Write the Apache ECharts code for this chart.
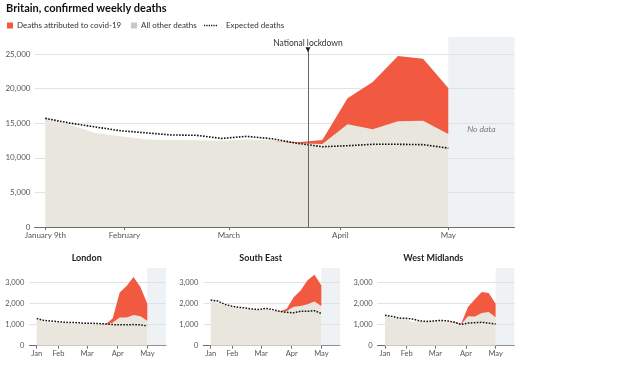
<!DOCTYPE html>
<html><head><meta charset="utf-8">
<script src="https://cdn.jsdelivr.net/npm/echarts@6/dist/echarts.min.js"></script>
<style>html,body{margin:0;padding:0;background:#fff}#c{width:624px;height:373px}</style>
</head><body><div id="c"></div>
<script>
// ---- data ----
const weekEnding = ['2020-01-10','2020-01-17','2020-01-24','2020-01-31','2020-02-07','2020-02-14','2020-02-21','2020-02-28','2020-03-06','2020-03-13','2020-03-20','2020-03-27','2020-04-03','2020-04-10','2020-04-17','2020-04-24','2020-05-01'];
const tickDates = ['2020-01-10','2020-02-01','2020-03-01','2020-04-01','2020-05-01'];
const mainTickLabels = ['January 9th','February','March','April','May'];
const smallTickLabels = ['Jan','Feb','Mar','Apr','May'];
const lockdownDate = '2020-03-23';
const noDataFrom = '2020-05-01';

const britainOther    = [15800,14650,13500,13050,12570,12500,12450,12400,12570,12450,12100,12000,14840,14120,15300,15360,13440];
const britainCovid    = [0,0,0,0,0,0,0,0,0,0,150,570,3760,6830,9400,8940,6660];
const britainExpected = [15700,15000,14450,13900,13600,13300,13250,12800,13100,12750,12100,11600,11750,11950,11950,11900,11400];

const londonOther    = [1250,1130,1080,1080,1060,1030,1020,1020,1010,1000,990,1100,1340,1340,1460,1400,1180];
const londonCovid    = [0,0,0,0,0,0,0,0,0,0,30,200,1180,1490,1800,1380,810];
const londonExpected = [1290,1200,1170,1140,1110,1100,1090,1060,1060,1050,1030,1000,990,990,1000,990,940];

const seOther    = [2150,1990,1880,1820,1750,1720,1710,1660,1720,1640,1600,1640,1850,1880,1960,2100,1880];
const seCovid    = [0,0,0,0,0,0,0,0,0,0,20,110,450,740,1140,1260,980];
const seExpected = [2165,2120,1960,1880,1820,1790,1740,1710,1770,1710,1630,1580,1560,1630,1630,1660,1530];

const wmOther    = [1420,1310,1250,1250,1080,1150,1130,1160,1170,1150,1100,1000,1400,1380,1550,1600,1350];
const wmCovid    = [0,0,0,0,0,0,0,0,0,0,20,30,430,820,990,900,640];
const wmExpected = [1440,1390,1310,1300,1260,1180,1150,1170,1200,1180,1120,1010,1070,1090,1110,1070,1030];

const regionNames = ['London','South East','West Midlands'];

// ---- helpers ----
const base = Date.UTC(2020,0,10);
const day = s => { const p = s.split('-').map(Number); return (Date.UTC(p[0],p[1]-1,p[2]) - base) / 86400000; };
const xs = weekEnding.map(day);
const pts = arr => arr.map((v,i) => [xs[i], v]);
const tickDays = tickDates.map(day);
const FONT = 'Lato';
const RED = '#f15a40', GREY = '#e9e6de', BAND = 'rgba(214,224,228,0.42)';
const MAIN_XMAX = 130.4, SMALL_XMAX = 130.9;

const grids = [
  {left:34.5, top:37, width:480, height:190},
  {left:29.3, top:268, width:136.7, height:77.7},
  {left:203.3, top:268, width:136.7, height:77.7},
  {left:377.6, top:268, width:136.7, height:77.7}
];
const xAxes = grids.map((g,i) => {
  const main = i === 0;
  const labels = main ? mainTickLabels : smallTickLabels;
  return {
    type:'value', gridIndex:i, min: main ? -3 : -7.5, max: main ? MAIN_XMAX : SMALL_XMAX,
    splitLine:{show:false},
    axisLine:{show:true, lineStyle:{color:'#6e6e6e', width:1}},
    axisTick:{show:true, customValues:tickDays, length:3, lineStyle:{color:'#6e6e6e'}},
    axisLabel:{customValues:tickDays, fontFamily:FONT, fontSize: main ? 8 : 7.5, color:'#555', margin:4,
      formatter: v => labels[tickDays.indexOf(v)] || ''}
  };
});
const yAxes = grids.map((g,i) => {
  const main = i === 0;
  const step = main ? 5000 : 1000;
  return {
    type:'value', gridIndex:i, min:0, max: main ? 27457 : 3682, interval: step,
    axisLine:{show:false}, axisTick:{show:false},
    splitLine:{show:true, showMaxLine:false, lineStyle:{color:'#dde5e8', width:1}},
    axisLabel:{fontFamily:FONT, fontSize: main ? 8 : 7.5, color:'#555', margin: main ? 4 : 5,
      formatter: v => (v % step === 0) ? v.toLocaleString('en-US') : ''}
  };
});

const sets = [
  [britainOther, britainCovid, britainExpected],
  [londonOther, londonCovid, londonExpected],
  [seOther, seCovid, seExpected],
  [wmOther, wmCovid, wmExpected]
];
const series = [];
sets.forEach((s,i) => {
  const main = i === 0;
  const pre = main ? '' : regionNames[i-1] + ' ';
  const other = s[0], covid = s[1];
  const band = xs.map((x,k) => [x, other[k], other[k] + covid[k]]);
  const first = Math.max(0, covid.findIndex(v => v > 0) - 1);
  series.push({
    name: main ? 'All other deaths' : pre + 'other', type:'line', xAxisIndex:i, yAxisIndex:i,
    data:pts(other), symbol:'none', lineStyle:{width:1, color:GREY}, areaStyle:{color:GREY, opacity:1},
    itemStyle:{color:'#ccc9c1'}, silent:true, z:2,
    markArea:{silent:true, itemStyle:{color:BAND},
      label:{show:main, position:'inside', formatter:'No data', fontFamily:FONT, fontStyle:'italic', fontSize:8.5, color:'#7a7a7a', offset:[0,-3]},
      data:[[{xAxis:day(noDataFrom)},{xAxis: main ? MAIN_XMAX : SMALL_XMAX}]]}
  });
  // covid deaths: band between "other" and "other + covid"
  series.push({
    name: main ? 'Deaths attributed to covid-19' : pre + 'covid', type:'custom', xAxisIndex:i, yAxisIndex:i,
    data:band, encode:{x:0, y:[1,2]}, silent:true, z:3, clip:true, itemStyle:{color:RED},
    renderItem:(params, api) => {
      if (params.dataIndex !== first) return null;
      const top = [], bot = [];
      for (let k = first; k < band.length; k++) {
        top.push(api.coord([api.value(0,k), api.value(2,k)]));
        bot.push(api.coord([api.value(0,k), api.value(1,k)]));
      }
      return {type:'polygon', shape:{points: top.concat(bot.reverse())}, style:{fill:RED}};
    }
  });
  const exp = {
    name: main ? 'Expected deaths' : pre + 'expected', type:'line', xAxisIndex:i, yAxisIndex:i,
    data:pts(s[2]), symbol:'none', silent:true, z:4,
    lineStyle:{color:'#111', width: main ? 1.6 : 1.5, type:[1.6,1.4]}, itemStyle:{color:'#111'}
  };
  if (main) {
    const ld = day(lockdownDate);
    exp.markLine = {silent:true, symbol:['none','none'],
      lineStyle:{color:'#666', width:1, type:'solid'},
      label:{show:true, position:'end', formatter:'National lockdown', fontFamily:FONT, fontSize:8.5, color:'#333', distance:1},
      data:[[{coord:[ld,0]},{coord:[ld,25720]}]]};
    exp.markPoint = {silent:true, symbol:'triangle', symbolSize:[5,5], symbolRotate:180,
      itemStyle:{color:'#222'}, label:{show:false}, data:[{coord:[ld,25600]}]};
  }
  series.push(exp);
});

const dotIcon = 'path://M0,0h1.2v1.6h-1.2zM2.35,0h1.2v1.6h-1.2zM4.7,0h1.2v1.6h-1.2zM7.05,0h1.2v1.6h-1.2zM9.4,0h1.2v1.6h-1.2zM11.75,0h1.2v1.6h-1.2z';
const LFS = 8;
const legendBase = {orient:'horizontal', top:21.5, selectedMode:false, itemGap:0,
  textStyle:{fontFamily:FONT, fontSize:LFS, color:'#333', padding:[0,0,0,-1]}, padding:0};
const option = {
  animation:false,
  title:{text:'Britain, confirmed weekly deaths', left:6, top:3, padding:0,
    textStyle:{fontFamily:FONT, fontSize:11, fontWeight:'bold', color:'#111'}},
  legend:[
    Object.assign({}, legendBase, {left:7, itemWidth:6, itemHeight:6, itemStyle:{color:RED}, data:[{name:'Deaths attributed to covid-19', icon:'rect'}]}),
    Object.assign({}, legendBase, {left:131, itemWidth:6, itemHeight:6, data:[{name:'All other deaths', icon:'rect'}]}),
    Object.assign({}, legendBase, {left:204, itemWidth:13, itemHeight:1.6, itemStyle:{color:'#111'}, data:[{name:'Expected deaths', icon:dotIcon}],
      textStyle:Object.assign({}, legendBase.textStyle, {padding:[0,0,0,4]})})
  ],
  graphic: regionNames.map((n,k) => ({type:'text', x:[86.7,260.7,433.3][k], y:258,
    style:{text:n, align:'center', verticalAlign:'middle', fontFamily:FONT, fontSize:9, fontWeight:'bold', fill:'#222'}})),
  grid: grids, xAxis: xAxes, yAxis: yAxes, series: series
};
const chart = echarts.init(document.getElementById('c'), null, {renderer:'canvas'});
chart.setOption(option);
</script></body></html>
